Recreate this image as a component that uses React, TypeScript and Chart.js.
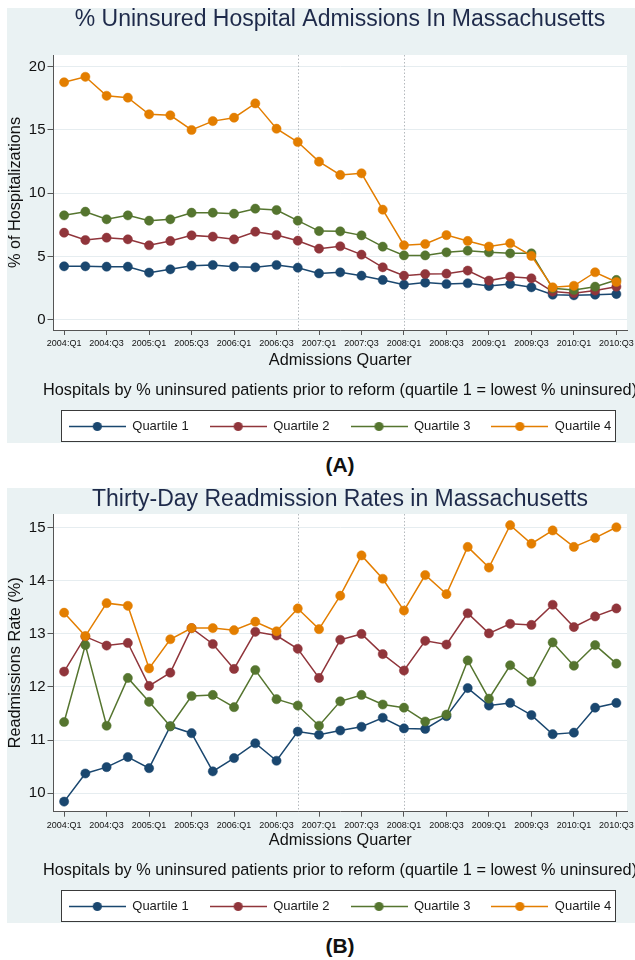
import React, { useEffect, useRef } from 'react';
import { Chart, registerables } from 'chart.js';

Chart.register(...registerables);

const FONT = "'Liberation Sans', Arial, Helvetica, sans-serif";
Chart.defaults.font.family = FONT;
Chart.defaults.color = '#111';

if (typeof document !== 'undefined') {
  document.body.style.margin = '0';
}

// ---------- data ----------
const categories = [
  '2004:Q1', '2004:Q2', '2004:Q3', '2004:Q4',
  '2005:Q1', '2005:Q2', '2005:Q3', '2005:Q4',
  '2006:Q1', '2006:Q2', '2006:Q3', '2006:Q4',
  '2007:Q1', '2007:Q2', '2007:Q3', '2007:Q4',
  '2008:Q1', '2008:Q2', '2008:Q3', '2008:Q4',
  '2009:Q1', '2009:Q2', '2009:Q3', '2009:Q4',
  '2010:Q1', '2010:Q2', '2010:Q3',
];

const xTickLabels = [
  '2004:Q1', '2004:Q3', '2005:Q1', '2005:Q3', '2006:Q1', '2006:Q3', '2007:Q1',
  '2007:Q3', '2008:Q1', '2008:Q3', '2009:Q1', '2009:Q3', '2010:Q1', '2010:Q3',
];

const reformQuarters = ['2006:Q4', '2008:Q1'];

const seriesNames = ['Quartile 1', 'Quartile 2', 'Quartile 3', 'Quartile 4'];
const seriesColors = ['#1a476f', '#90353b', '#55752f', '#e37e00'];

// Panel A: % uninsured hospital admissions
const uninsuredQ1 = [4.24, 4.24, 4.21, 4.21, 3.74, 4.0, 4.29, 4.34, 4.21, 4.16, 4.34, 4.13, 3.68, 3.76, 3.5, 3.16, 2.79, 2.95, 2.84, 2.9, 2.68, 2.84, 2.58, 2.0, 1.95, 2.0, 2.05];
const uninsuredQ2 = [6.89, 6.31, 6.5, 6.37, 5.9, 6.24, 6.68, 6.58, 6.37, 6.97, 6.71, 6.26, 5.63, 5.82, 5.16, 4.16, 3.5, 3.63, 3.66, 3.9, 3.11, 3.42, 3.29, 2.24, 2.11, 2.32, 2.63];
const uninsuredQ3 = [8.26, 8.55, 7.95, 8.26, 7.84, 7.95, 8.47, 8.47, 8.39, 8.79, 8.68, 7.84, 7.02, 7.0, 6.68, 5.79, 5.1, 5.1, 5.34, 5.47, 5.34, 5.26, 5.26, 2.5, 2.37, 2.63, 3.16];
const uninsuredQ4 = [18.77, 19.2, 17.7, 17.55, 16.24, 16.16, 15.0, 15.7, 15.97, 17.1, 15.1, 14.05, 12.5, 11.45, 11.58, 8.71, 5.9, 6.0, 6.7, 6.24, 5.8, 6.06, 5.06, 2.58, 2.7, 3.77, 3.0];
const uninsuredTicks = [0, 5, 10, 15, 20];

// Panel B: thirty-day readmission rates
const readmitQ1 = [9.84, 10.37, 10.49, 10.68, 10.47, 11.26, 11.13, 10.41, 10.66, 10.94, 10.61, 11.16, 11.1, 11.18, 11.25, 11.42, 11.22, 11.21, 11.45, 11.98, 11.65, 11.7, 11.47, 11.11, 11.14, 11.61, 11.7];
const readmitQ2 = [12.29, 12.95, 12.78, 12.83, 12.02, 12.27, 13.11, 12.81, 12.34, 13.04, 12.97, 12.72, 12.17, 12.89, 13.0, 12.62, 12.31, 12.87, 12.8, 13.39, 13.01, 13.19, 13.17, 13.55, 13.13, 13.33, 13.48];
const readmitQ3 = [11.34, 12.79, 11.27, 12.17, 11.72, 11.26, 11.83, 11.85, 11.62, 12.32, 11.77, 11.65, 11.27, 11.73, 11.85, 11.67, 11.61, 11.35, 11.48, 12.5, 11.78, 12.41, 12.1, 12.84, 12.4, 12.79, 12.44];
const readmitQ4 = [13.4, 12.96, 13.58, 13.53, 12.35, 12.9, 13.11, 13.11, 13.07, 13.23, 13.05, 13.48, 13.09, 13.72, 14.48, 14.04, 13.44, 14.11, 13.75, 14.64, 14.25, 15.05, 14.7, 14.95, 14.64, 14.81, 15.01];
const readmitTicks = [10, 11, 12, 13, 14, 15];

const caption = 'Hospitals by % uninsured patients prior to reform (quartile 1 = lowest % uninsured)';

// ---------- layout constants ----------
const CW = 666;
const CH = 435;
const BG = '#eaf2f3';

function makeLegendIcon(color: string) {
  const c = document.createElement('canvas');
  c.width = 57;
  c.height = 11;
  const g = c.getContext('2d')!;
  g.strokeStyle = color;
  g.lineWidth = 1.5;
  g.beginPath();
  g.moveTo(0, 5.5);
  g.lineTo(57, 5.5);
  g.stroke();
  g.fillStyle = color;
  g.beginPath();
  g.arc(28.5, 5.5, 4.6, 0, Math.PI * 2);
  g.fill();
  return c;
}

const decorPlugin = {
  id: 'stataDecor',
  beforeDraw(chart: any) {
    const { ctx, chartArea } = chart;
    ctx.save();
    ctx.fillStyle = BG;
    ctx.fillRect(0, 0, chart.width, chart.height);
    ctx.fillStyle = '#ffffff';
    ctx.fillRect(chartArea.left, chartArea.top, chartArea.right - chartArea.left, chartArea.bottom - chartArea.top);
    const lg = chart.legend;
    const hb = lg && lg.legendHitBoxes;
    if (hb && hb.length) {
      const first = hb[0];
      const last = hb[hb.length - 1];
      const left = Math.round(first.left - 8) + 0.5;
      const right = Math.round(last.left + last.width + 4) + 0.5;
      const cy = first.top + first.height / 2;
      const top = Math.floor(cy - 16) + 0.5;
      ctx.fillStyle = '#ffffff';
      ctx.fillRect(left, top, right - left, 31);
      ctx.strokeStyle = '#3a3a3a';
      ctx.lineWidth = 1;
      ctx.strokeRect(left, top, right - left, 31);
    }
    ctx.restore();
  },
  beforeDatasetsDraw(chart: any) {
    const { ctx, chartArea } = chart;
    const xs = chart.scales.x;
    ctx.save();
    ctx.strokeStyle = '#b4b9bd';
    ctx.lineWidth = 1;
    ctx.setLineDash([1.5, 2]);
    reformQuarters.forEach((q) => {
      const x = Math.round(xs.getPixelForValue(categories.indexOf(q))) + 0.5;
      ctx.beginPath();
      ctx.moveTo(x, chartArea.top);
      ctx.lineTo(x, chartArea.bottom);
      ctx.stroke();
    });
    ctx.restore();
  },
};

type PanelCfg = {
  title: string;
  yTitle: string;
  series: number[][];
  yMin: number;
  yMax: number;
  yTicks: number[];
  titlePadBottom: number;
  xAxisHeight: number;
};

function buildConfig(p: PanelCfg): any {
  const icons = seriesColors.map(makeLegendIcon);
  return {
    type: 'line',
    data: {
      labels: categories,
      datasets: p.series.map((vals, i) => ({
        label: seriesNames[i],
        data: vals,
        borderColor: seriesColors[i],
        backgroundColor: seriesColors[i],
        pointBackgroundColor: seriesColors[i],
        pointBorderColor: seriesColors[i],
        pointBorderWidth: 0.5,
        pointRadius: 4.6,
        borderWidth: 1.5,
        tension: 0,
        fill: false,
        order: 3 - i,
      })),
    },
    options: {
      animation: false,
      responsive: false,
      devicePixelRatio: 1,
      events: [],
      layout: { padding: { left: 0, right: 0, top: 0, bottom: 0 } },
      scales: {
        x: {
          type: 'category',
          offset: true,
          grid: {
            drawOnChartArea: false,
            drawTicks: true,
            tickLength: 5,
            tickColor: (c: any) => (xTickLabels.includes(categories[c.index]) ? '#555' : 'rgba(0,0,0,0)'),
          },
          border: { display: true, color: '#555', width: 1 },
          ticks: {
            autoSkip: false,
            maxRotation: 0,
            minRotation: 0,
            padding: 3,
            color: '#111',
            font: { size: 9, family: FONT },
            callback: (_v: any, index: number) => (xTickLabels.includes(categories[index]) ? categories[index] : ''),
          },
          title: {
            display: true,
            text: 'Admissions Quarter',
            color: '#111',
            font: { size: 16.3, family: FONT, lineHeight: 1 },
            padding: { top: 0, bottom: 14.5 },
          },
          afterFit: (s: any) => {
            s.height = p.xAxisHeight;
          },
        },
        y: {
          type: 'linear',
          position: 'left',
          min: p.yMin,
          max: p.yMax,
          afterBuildTicks: (s: any) => {
            s.ticks = p.yTicks.map((v) => ({ value: v }));
          },
          grid: {
            color: '#e6edf0',
            lineWidth: 1,
            drawTicks: true,
            tickLength: 6,
            tickColor: '#555',
          },
          border: { display: true, color: '#555', width: 1 },
          ticks: {
            padding: 2,
            color: '#111',
            font: { size: 15, family: FONT },
          },
          title: {
            display: true,
            text: p.yTitle,
            color: '#111',
            font: { size: 16.3, family: FONT, lineHeight: 1 },
            padding: { top: 0, bottom: 0 },
          },
          afterFit: (s: any) => {
            s.width = 46.5;
          },
        },
        yRight: {
          type: 'linear',
          position: 'right',
          display: true,
          grid: { display: false, drawTicks: false },
          border: { display: false },
          ticks: { display: false },
          afterFit: (s: any) => {
            s.width = 46;
          },
        },
      },
      plugins: {
        tooltip: { enabled: false },
        title: {
          display: true,
          text: p.title,
          color: '#1e2a4a',
          font: { size: 23, family: FONT, weight: 'normal', lineHeight: 1 },
          padding: { top: 0, bottom: p.titlePadBottom },
        },
        legend: {
          display: true,
          position: 'bottom',
          title: {
            display: true,
            text: caption,
            color: '#111',
            position: 'center',
            font: { size: 16.3, family: FONT, lineHeight: 1 },
            padding: { top: 0, bottom: 0 },
          },
          labels: {
            usePointStyle: true,
            pointStyleWidth: 57,
            boxHeight: 13,
            padding: 21,
            color: '#1a1a1a',
            font: { size: 13, family: FONT },
            generateLabels: (chart: any) =>
              chart.data.datasets.map((ds: any, i: number) => ({
                text: ds.label,
                fillStyle: ds.borderColor,
                strokeStyle: ds.borderColor,
                lineWidth: 0,
                pointStyle: icons[i],
                hidden: false,
                datasetIndex: i,
                fontColor: '#1a1a1a',
              })),
          },
        },
      },
    },
    plugins: [decorPlugin],
  };
}

const panelA: PanelCfg = {
  title: '% Uninsured Hospital Admissions In Massachusetts',
  yTitle: '% of Hospitalizations',
  series: [uninsuredQ1, uninsuredQ2, uninsuredQ3, uninsuredQ4],
  yMin: -0.79,
  yMax: 20.92,
  yTicks: uninsuredTicks,
  titlePadBottom: 24,
  xAxisHeight: 52.7,
};

const panelB: PanelCfg = {
  title: 'Thirty-Day Readmission Rates in Massachusetts',
  yTitle: 'Readmissions Rate (%)',
  series: [readmitQ1, readmitQ2, readmitQ3, readmitQ4],
  yMin: 9.65,
  yMax: 15.26,
  yTicks: readmitTicks,
  titlePadBottom: 3,
  xAxisHeight: 51,
};

function Panel({ cfg, top }: { cfg: PanelCfg; top: number }) {
  const ref = useRef<HTMLCanvasElement>(null);
  useEffect(() => {
    const chart = new Chart(ref.current!, buildConfig(cfg));
    return () => chart.destroy();
  }, []);
  return (
    <canvas
      ref={ref}
      width={CW}
      height={CH}
      style={{ position: 'absolute', left: 7, top, width: CW, height: CH, display: 'block' }}
    />
  );
}

const labelStyle: React.CSSProperties = {
  position: 'absolute',
  left: 7,
  width: CW,
  textAlign: 'center',
  fontFamily: FONT,
  fontWeight: 'bold',
  fontSize: 21,
  color: '#111',
  overflow: 'hidden',
};

export default function App() {
  return (
    <div style={{ position: 'relative', width: 635, height: 960, overflow: 'hidden', background: '#fff' }}>
      <Panel cfg={panelA} top={8} />
      <div style={{ ...labelStyle, top: 443, height: 45, lineHeight: '44px' }}>(A)</div>
      <Panel cfg={panelB} top={488} />
      <div style={{ ...labelStyle, top: 923, height: 37, lineHeight: '45px' }}>(B)</div>
    </div>
  );
}
